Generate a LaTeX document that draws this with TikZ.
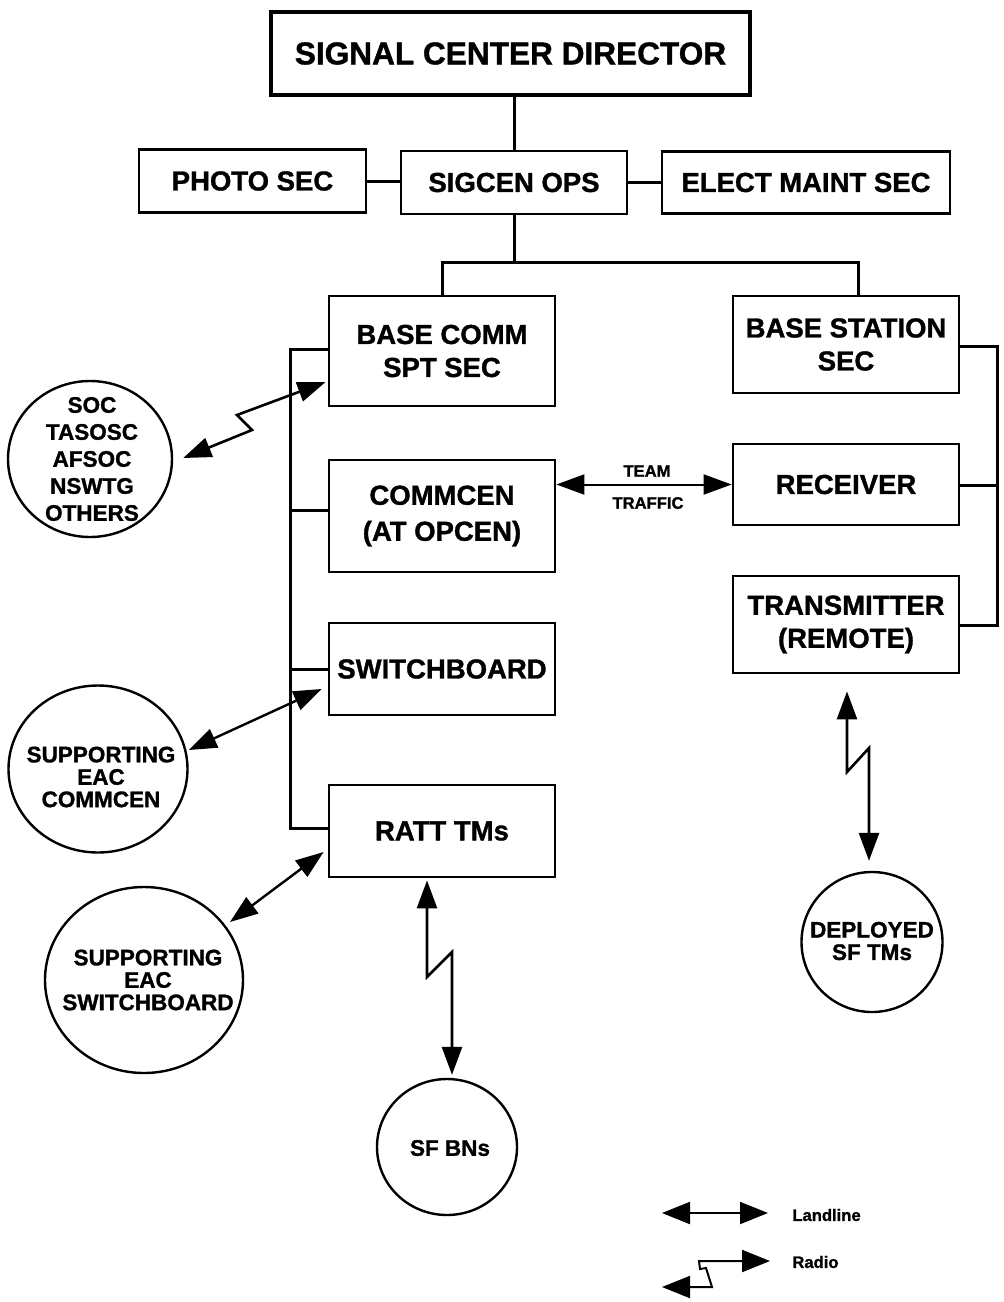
\documentclass[tikz,border=0pt]{standalone}
\usepackage{fontspec}
\setmainfont{Liberation Sans}[BoldFeatures={FakeBold=1.2}]
\usetikzlibrary{arrows.meta,shapes.geometric,calc}
\begin{document}
\begin{tikzpicture}[x=0.5pt,y=-0.5pt,
  bx/.style 2 args={draw,line width=1.4pt,minimum width=#1*0.5pt,minimum height=#2*0.5pt,inner sep=0pt,align=center,font=\fontsize{13.75}{16.5}\selectfont\bfseries},
  ov/.style 2 args={draw,ellipse,line width=1.2pt,minimum width=#1*0.5pt,minimum height=#2*0.5pt,inner sep=0pt},
  ctext/.style={inner sep=0pt,align=center,font=\fontsize{11.25}{11.2}\selectfont\bfseries},
  conn/.style={line width=1.5pt},
  land/.style={line width=1.2pt,{Triangle[length=14pt,width=10pt]}-{Triangle[length=14pt,width=10pt]}},
  radio/.style={line width=1.3pt,line join=miter,{Triangle[length=14pt,width=10pt]}-{Triangle[length=14pt,width=10pt]}},
  lbl/.style={inner sep=0pt,font=\fontsize{8.3}{9}\selectfont\bfseries}
]
\useasboundingbox (0,0) rectangle (1004,1302);

% boxes
\node[bx={479}{83},line width=2.2pt,font=\fontsize{15.8}{18}\selectfont\bfseries] (scd) at (510.5,53.5) {SIGNAL CENTER DIRECTOR};
\node[bx={227}{63}] (photo) at (252.5,181) {PHOTO SEC};
\node[bx={226}{63}] (ops) at (514,182.5) {SIGCEN OPS};
\node[bx={288}{62}] (elect) at (806,182.5) {ELECT MAINT SEC};
\node[bx={226}{110}] (basecomm) at (442,351) {BASE COMM\\SPT SEC};
\node[bx={226}{97}] (basestation) at (846,344.5) {BASE STATION\\SEC};
\node[bx={226}{112},font=\fontsize{13.75}{18}\selectfont\bfseries] (commcen) at (442,516) {COMMCEN\\(AT OPCEN)};
\node[bx={226}{81}] (receiver) at (846,484.5) {RECEIVER};
\node[bx={226}{92}] (switchboard) at (442,669) {SWITCHBOARD};
\node[bx={226}{97}] (transmitter) at (846,624.5) {TRANSMITTER\\(REMOTE)};
\node[bx={226}{92}] (ratt) at (442,831) {RATT TMs};

% circles
\node[ov={164}{156}] (soc) at (90,459) {};
\node[ctext,font=\fontsize{11.25}{13.5}\selectfont\bfseries] (soct) at (92,459) {SOC\\TASOSC\\AFSOC\\NSWTG\\OTHERS};
\node[ov={179}{167}] (supcomm) at (98,769) {};
\node[ctext] (supcommt) at (101,777) {SUPPORTING\\EAC\\COMMCEN};
\node[ov={198}{186}] (supsw) at (144,980) {};
\node[ctext] (supswt) at (148,980) {SUPPORTING\\EAC\\SWITCHBOARD};
\node[ov={140}{136}] (sfbn) at (447,1147) {};
\node[ctext] (sfbnt) at (450,1148) {SF BNs};
\node[ov={141}{140}] (deployed) at (872,942) {};
\node[ctext] (deployedt) at (872,941) {DEPLOYED\\SF TMs};

% hierarchy connectors
\draw[conn] (scd.south -| ops.north) -- (ops.north);
\draw[conn] (photo.east) -- (photo.east -| ops.west);
\draw[conn] (ops.east) -- (ops.east -| elect.west);
\coordinate (j) at (514,262);
\coordinate (bst) at (858,296);
\draw[conn] (ops.south) -- (j);
\draw[conn] (basecomm.north) -- (basecomm.north |- j) -- (bst |- j) -- (bst);

% left bus
\coordinate (lb1) at (290,349);
\coordinate (lb2) at (290,510);
\coordinate (lb3) at (290,669);
\coordinate (lb4) at (290,828);
\draw[conn] (lb1 -| basecomm.west) -- (lb1) -- (lb4) -- (lb4 -| ratt.west);
\draw[conn] (lb2) -- (lb2 -| commcen.west);
\draw[conn] (lb3) -- (lb3 -| switchboard.west);

% right bus
\coordinate (rb1) at (997,346);
\coordinate (rb2) at (997,485);
\coordinate (rb3) at (997,625);
\draw[conn] (rb1 -| basestation.east) -- (rb1) -- (rb3) -- (rb3 -| transmitter.east);
\draw[conn] (rb2 -| receiver.east) -- (rb2);

% team traffic
\draw[land,line width=1pt] (commcen.east |- receiver.west) -- (receiver.west);
\node[lbl] (team) at (647,471) {TEAM};
\node[lbl] (traffic) at (648,503) {TRAFFIC};

% radio links
\draw[radio] ($(basecomm.west)+(-2,31)$) -- (237,415) -- (252,430) -- ($(soc.east)+(10,-1)$);
\draw[radio] ($(ratt.south)+(-15,2)$) -- (427,977) -- (452,952) -- ($(sfbn.north)+(5,-3)$);
\draw[radio] ($(transmitter.south)+(1,17)$) -- (847,772) -- (869,748) -- ($(deployed.north)+(-3,-10)$);

% landlines
\draw[land] ($(switchboard.west)+(-6,20)$) -- ($(supcomm.east)+(0,-19)$);
\draw[land] ($(ratt.west)+(-4,21)$) -- ($(supsw.center)+(86,-58)$);

% legend
\coordinate (lgA) at (662,1213);
\coordinate (lgB) at (768,1213);
\draw[land,line width=1pt,{Triangle[length=14pt,width=11pt]}-{Triangle[length=14pt,width=11pt]}] (lgA) -- (lgB);
\node[lbl,anchor=west] (landline) at (792,1215) {Landline};
\coordinate (lgC) at (770,1261);
\coordinate (lgD) at (662,1287);
\draw[radio,line width=1pt,{Triangle[length=14pt,width=11pt]}-{Triangle[length=14pt,width=11pt]}] (lgC) -- (699,1261) -- (700,1269) -- (706,1268) -- (712,1287) -- (lgD);
\node[lbl,anchor=west] (radiolbl) at (792,1262) {Radio};
\end{tikzpicture}
\end{document}
